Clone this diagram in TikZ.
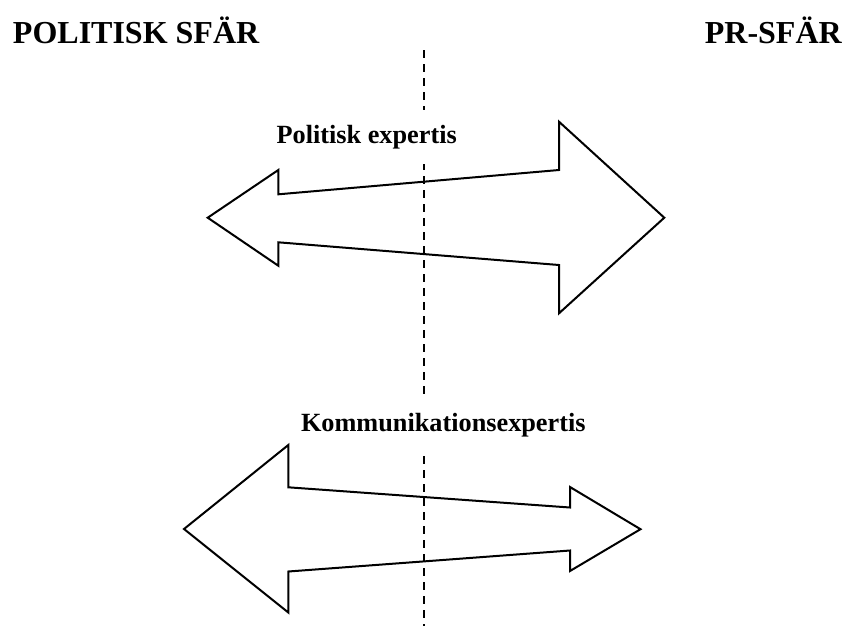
\documentclass[tikz,border=0pt]{standalone}
\usepackage{fontspec}
\setmainfont{Liberation Serif}
\usepackage{tikz}
\usetikzlibrary{positioning}

\begin{document}
\begin{tikzpicture}[
        x=0.75pt, y=-0.75pt,
        every node/.style={font=\bfseries},
        sphere/.style={font=\fontsize{24}{28}\selectfont\bfseries, inner sep=0pt},
        expertise/.style={font=\fontsize{19.7}{24}\selectfont\bfseries, fill=white, inner xsep=4pt, inner ysep=11pt},
        divider/.style={draw=black, dash pattern=on 5.8pt off 4.7pt, line width=1.1pt},
        blockarrow/.style={draw=black, line width=1.5pt, line join=miter}
        ]
        \useasboundingbox (0,0) rectangle (847,626);

        % Dashed border between the two spheres
        \coordinate (divtop) at (424,50);
        \coordinate (divbot) at (424,626);
        \draw[divider] (divtop) -- (divbot);

        % Sphere headings
        \node[sphere, anchor=base west] (polsphere) at (12.7,43.3) {POLITISK SFÄR};
        \node[sphere, anchor=base east] (prsphere) at (842,43.3) {PR-SFÄR};

        % Upper double arrow (big head on the PR side)
        \draw[blockarrow] (207.7,217.7) -- (278.3,170) -- (278.3,194.3) -- (559,170) -- (559,121.7)
            -- (664.3,217.7) -- (559,313.3) -- (559,265) -- (278.3,242.3) -- (278.3,265.7) -- cycle;

        % Lower double arrow (big head on the political side)
        \draw[blockarrow] (184,529) -- (288.3,445) -- (288.3,487.3) -- (570,507.5) -- (570,487)
            -- (640.5,529.2) -- (570,571) -- (570,550.5) -- (288.3,571.5) -- (288.3,612.5) -- cycle;

        % Labels over the dashed line
        \node[expertise, anchor=base] (polexp) at (366.7,143.3) {Politisk expertis};
        \node[expertise, anchor=base] (komexp) at (443.3,431.7) {Kommunikationsexpertis};

    \end{tikzpicture}
\end{document}
